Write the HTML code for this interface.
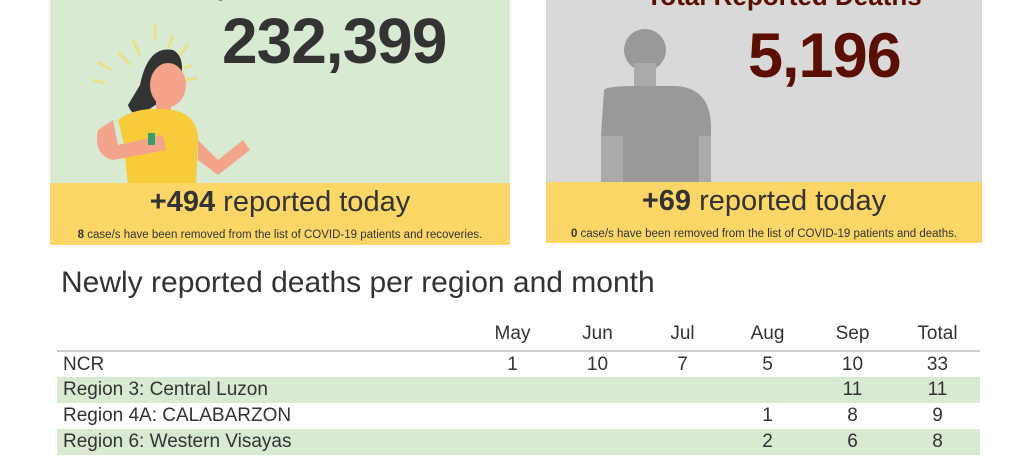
<!DOCTYPE html>
<html><head><meta charset="utf-8"><style>
*{margin:0;padding:0;box-sizing:border-box}
body{width:1024px;height:460px;background:#fff;position:relative;overflow:hidden;font-family:"Liberation Sans",sans-serif;color:#333}
.abs{position:absolute}
.card{position:absolute;top:0;height:245px}
.band{position:absolute;left:0;right:0;background:#fcd667;text-align:center}
.big{font-weight:bold;position:absolute;font-size:64px;letter-spacing:-1px}
.rt{font-size:29px;position:absolute;left:0;right:0;top:3px;text-align:center}
.sm{font-size:11.5px;position:absolute;left:0;right:0;top:46px;text-align:center}
table{position:absolute;left:57px;top:318px;width:923px;border-collapse:collapse;font-size:19px;color:#333}
td,th{height:26px;padding:0;font-weight:normal}
th{height:33px;border-bottom:2px solid #ccc;vertical-align:middle}
td.n,th.n{width:85px;text-align:center}
td.l{padding-left:6px}
tr.g td{background:#d9ead3}
</style></head><body>
<div class="card" style="left:50px;width:460px;background:#d9ead3">
  <div class="abs" style="left:0;right:0;top:-29px;text-align:center;font-size:26px;font-weight:bold">Total Reported Recoveries</div>
  <div class="big" style="left:172px;top:4px;color:#333">232,399</div>
  <svg class="abs" style="left:28px;top:10px" width="200" height="175">
    <g stroke="#e9e08a" stroke-width="3">
      <line x1="40" y1="42" x2="52" y2="55"/><line x1="55" y1="30" x2="62" y2="45"/><line x1="77" y1="15" x2="77" y2="30"/><line x1="95" y1="25" x2="90" y2="38"/><line x1="110" y1="35" x2="102" y2="45"/><line x1="115" y1="55" x2="105" y2="58"/><line x1="20" y1="52" x2="33" y2="60"/><line x1="15" y1="70" x2="27" y2="73"/><line x1="120" y1="68" x2="108" y2="70"/>
    </g>
    <path d="M62 75 Q70 35 95 40 Q110 48 100 80 L70 100 Q55 110 50 95 Z" fill="#333"/>
    <ellipse cx="90" cy="75" rx="18" ry="22" fill="#f4a48a"/>
    <rect x="78" y="90" width="15" height="20" fill="#f4a48a"/>
    <path d="M40 110 Q60 95 95 100 Q120 105 120 130 L118 175 L50 175 L45 130 Z" fill="#f6cc3a"/>
    <path d="M20 120 L35 110 L40 135 L85 125 L88 140 L35 150 Q15 145 20 120Z" fill="#f4a48a"/>
    <path d="M120 130 L140 150 L165 130 L172 140 L140 165 L120 150Z" fill="#f4a48a"/>
    <rect x="70" y="123" width="7" height="12" fill="#3a9e6a"/>
  </svg>
  <div class="band" style="top:183px;height:62px">
    <div class="rt"><b>+494</b> reported today</div>
    <div class="sm"><b>8</b> case/s have been removed from the list of COVID-19 patients and recoveries.</div>
  </div>
</div>
<div class="card" style="left:546px;width:436px;height:243px;background:#d9d9d9">
  <div class="abs" style="left:0;right:0;top:-19px;text-align:center;font-size:26px;font-weight:bold;color:#5b0f00;padding-left:40px">Total Reported Deaths</div>
  <div class="big" style="left:202px;top:20px;color:#5b0f00;font-size:63px">5,196</div>
  <svg class="abs" style="left:50px;top:28px" width="130" height="155">
    <circle cx="49" cy="22" r="21" fill="#999"/>
    <rect x="38" y="35" width="22" height="30" fill="#aaa"/>
    <path d="M8 62 Q10 58 40 58 L80 58 Q115 60 115 100 L115 155 L10 155 L5 108 Z" fill="#999"/>
    <rect x="5" y="108" width="22" height="47" fill="#aaa"/>
    <rect x="103" y="108" width="12" height="47" fill="#aaa"/>
  </svg>
  <div class="band" style="top:182px;height:61px">
    <div class="rt"><b>+69</b> reported today</div>
    <div class="sm"><b>0</b> case/s have been removed from the list of COVID-19 patients and deaths.</div>
  </div>
</div>
<div class="abs" style="left:61px;top:266px;font-size:30px;color:#333">Newly reported deaths per region and month</div>
<table>
<tr><th></th><th class="n">May</th><th class="n">Jun</th><th class="n">Jul</th><th class="n">Aug</th><th class="n">Sep</th><th class="n">Total</th></tr>
<tr><td class="l">NCR</td><td class="n">1</td><td class="n">10</td><td class="n">7</td><td class="n">5</td><td class="n">10</td><td class="n">33</td></tr>
<tr class="g"><td class="l">Region 3: Central Luzon</td><td class="n"></td><td class="n"></td><td class="n"></td><td class="n"></td><td class="n">11</td><td class="n">11</td></tr>
<tr><td class="l">Region 4A: CALABARZON</td><td class="n"></td><td class="n"></td><td class="n"></td><td class="n">1</td><td class="n">8</td><td class="n">9</td></tr>
<tr class="g"><td class="l">Region 6: Western Visayas</td><td class="n"></td><td class="n"></td><td class="n"></td><td class="n">2</td><td class="n">6</td><td class="n">8</td></tr>
</table>
</body></html>
